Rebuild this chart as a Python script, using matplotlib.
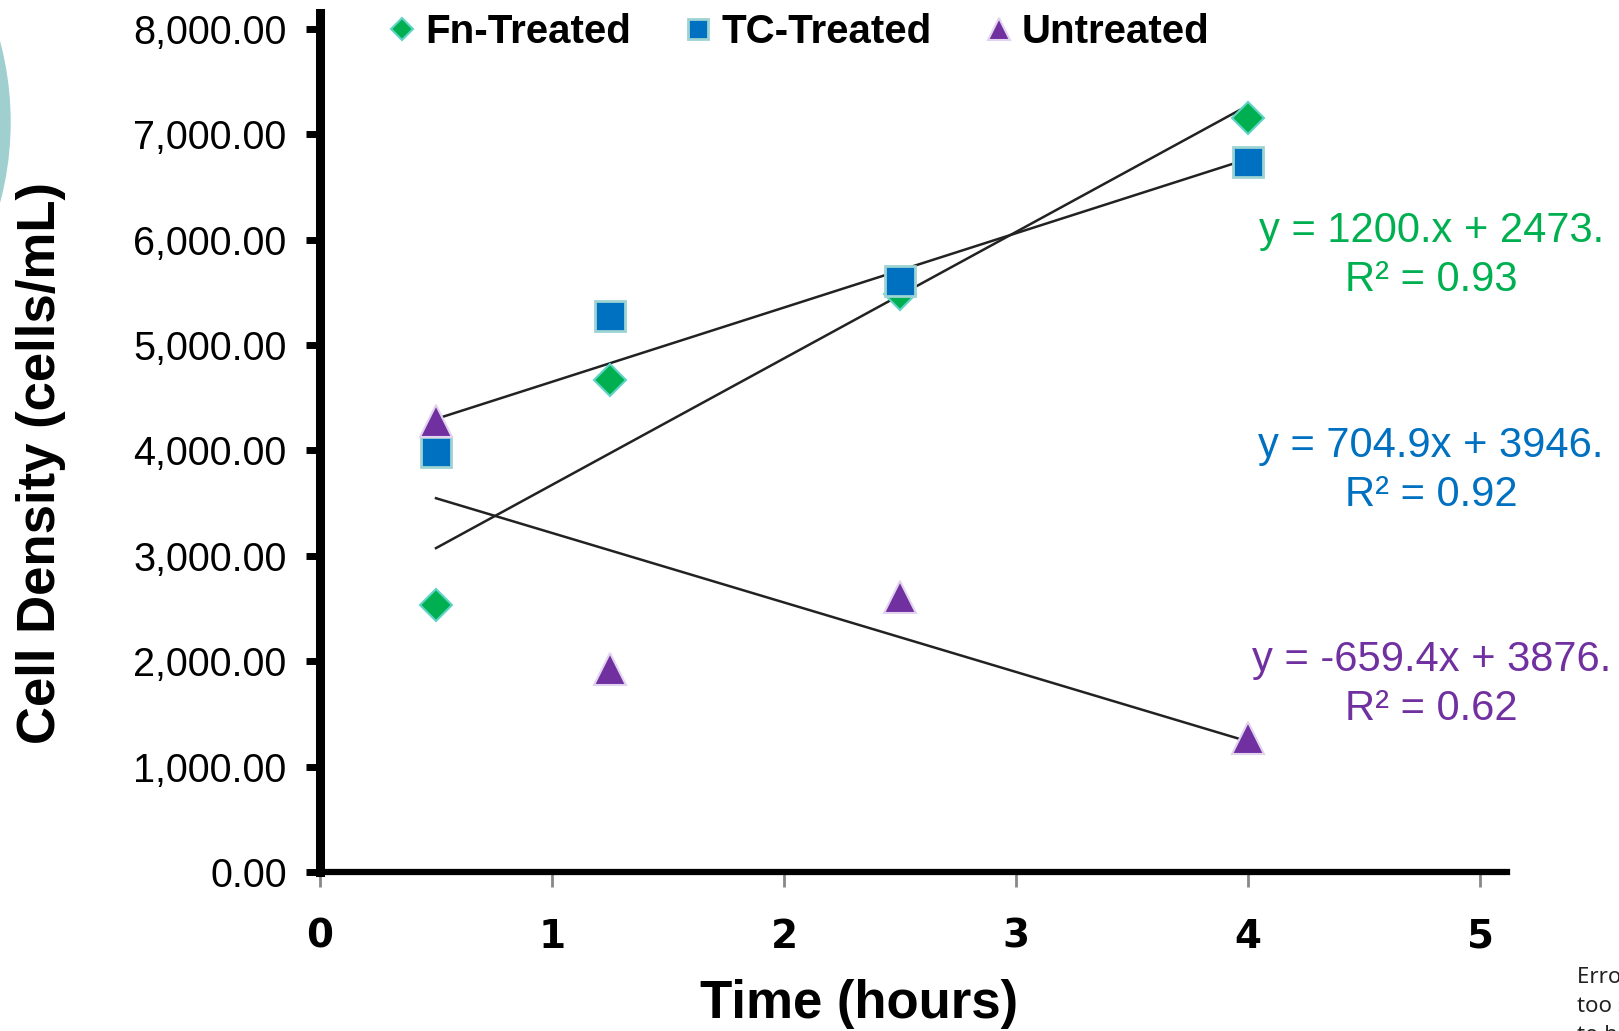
import numpy as np
import matplotlib
matplotlib.use("Agg")
import matplotlib.pyplot as plt
from matplotlib.patches import Ellipse
from matplotlib.ticker import FuncFormatter

# data
time_h = [0.5, 1.25, 2.5, 4.0]
fn_treated = [2533, 4668, 5484, 7154]
tc_treated = [3985, 5275, 5607, 6736]
untreated = [4279, 1926, 2609, 1271]

# trend lines as printed on the chart
fn_fit = (1200.0, 2473.0)
tc_fit = (704.9, 3946.0)
un_fit = (-659.4, 3876.0)
fn_label = "y = 1200.x + 2473.\nR² = 0.93"
tc_label = "y = 704.9x + 3946.\nR² = 0.92"
un_label = "y = -659.4x + 3876.\nR² = 0.62"

GREEN = "#00B050"
BLUE = "#0070C0"
PURPLE = "#7030A0"

plt.rcParams["font.family"] = ["Liberation Sans", "DejaVu Sans"]

fig = plt.figure(figsize=(16.19, 10.31), dpi=100)
ax = fig.add_axes([0.19765, 0.15422, 0.7332, 0.83317])

# decorative teal circle cut off at the top-left
fig.add_artist(Ellipse((-303 / 1619, 1 - 122 / 1031), 2 * 313 / 1619, 2 * 313 / 1031,
                       transform=fig.transFigure, color="#9fcfcf", zorder=0))

# trend lines
t_ends = np.array([time_h[0], time_h[-1]])
for slope, icpt in (fn_fit, tc_fit, un_fit):
    ax.plot(t_ends, slope * t_ends + icpt, color="#222222", lw=1.8, zorder=2)

ax.plot(time_h, fn_treated, "D", ms=16, color=GREEN, mec="#5fd3c6", mew=1.5,
        label="Fn-Treated", zorder=3)
ax.plot(time_h, tc_treated, "s", ms=21, color=BLUE, mec="#9ed3d3", mew=2,
        label="TC-Treated", zorder=3)
ax.plot(time_h, untreated, "^", ms=23, color=PURPLE, mec="#e2d4ef", mew=1.5,
        label="Untreated", zorder=3)

ax.set_xlim(0, 5.116)
ax.set_ylim(0, 8150)
ax.set_xticks(range(6))
ax.set_yticks(range(0, 8001, 1000))
ax.yaxis.set_major_formatter(FuncFormatter(lambda v, p: f"{v:,.2f}"))

for s in ("top", "right"):
    ax.spines[s].set_visible(False)
ax.spines["left"].set_linewidth(6.5)
ax.spines["bottom"].set_linewidth(4.5)

ax.tick_params(axis="y", length=10, width=5, pad=14, labelsize=28.5, color="black")
ax.tick_params(axis="x", length=11, width=2, pad=22, color="#888888")
for lbl in ax.get_xticklabels():
    lbl.set_fontfamily("DejaVu Sans")
    lbl.set_fontweight("bold")
    lbl.set_fontsize(28)

ax.set_xlabel("Time (hours)", fontsize=38, fontweight="bold")
ax.xaxis.set_label_coords((859 - 320) / 1187, -(1004 - 872) / 859)
ax.xaxis.label.set_va("center")
ax.set_ylabel("Cell Density (cells/mL)", fontsize=38, fontweight="bold")
ax.yaxis.set_label_coords(-(322 - 43) / 1187, (872 - 463) / 859)
ax.yaxis.label.set_va("center")

# equation boxes
for txt, col, yv in ((fn_label, GREEN, 5852), (tc_label, BLUE, 3812), (un_label, PURPLE, 1782)):
    ax.text(4.789, yv, txt, color=col, fontsize=30, ha="center", va="center",
            multialignment="center", linespacing=1.3, clip_on=False)

leg = ax.legend(loc="center left", bbox_to_anchor=(388 / 1619, 1 - 32 / 1031),
                bbox_transform=fig.transFigure, ncol=3, frameon=False,
                markerscale=0.7, handlelength=0.7, handletextpad=0.22,
                columnspacing=1.32, borderaxespad=0, borderpad=0,
                prop={"size": 29, "weight": "bold"})

fig.text(1577 / 1619, 1 - 967 / 1031, "Error bars\ntoo small\nto be", fontsize=16,
         family="Noto Sans", color="#222222", va="top", ha="left", linespacing=1.5)

fig.savefig("out.png", dpi=100)
